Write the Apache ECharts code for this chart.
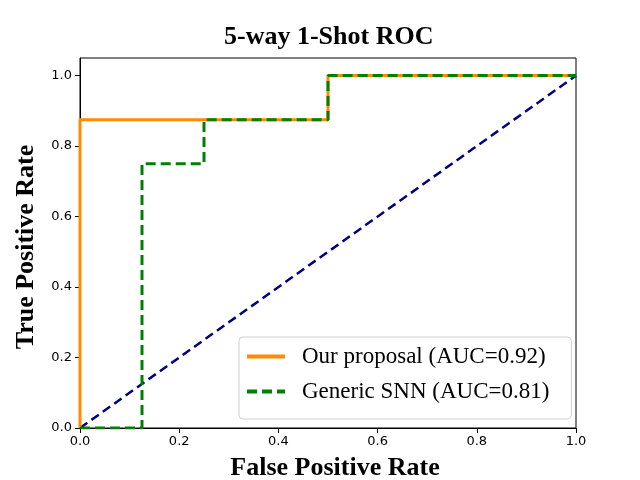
<!DOCTYPE html>
<html>
<head>
<meta charset="utf-8">
<script src="https://cdn.jsdelivr.net/npm/echarts@6/dist/echarts.min.js"></script>
<style>
html, body { margin: 0; padding: 0; background: #fff; }
#main { width: 640px; height: 480px; }
</style>
</head>
<body>
<div id="main"></div>
<script>
// ROC points
var oursFpr = [0, 0, 0.5, 0.5, 1];
var oursTpr = [0, 0.875, 0.875, 1, 1];
var snnFpr = [0, 0.125, 0.125, 0.25, 0.25, 0.5, 0.5, 1];
var snnTpr = [0, 0, 0.75, 0.75, 0.875, 0.875, 1, 1];
var chanceFpr = [0, 1];
var chanceTpr = [0, 1];

function pairs(xs, ys) {
	var out = [];
	for (var i = 0; i < xs.length; i++) {
		out.push([xs[i], ys[i]]);
	}
	return out;
}

var chart = echarts.init(document.getElementById('main'));
var serif = '"Liberation Serif", "DejaVu Serif", serif';
var sans = '"DejaVu Sans", sans-serif';

var option = {
	animation : false,
	title : {
		text : '5-way 1-Shot ROC',
		left : 219,
		top : 19,
		textStyle : { fontFamily : serif, fontWeight : 'bold', fontSize : 26, color : '#000' }
	},
	grid : {
		left : 80, right : 64, top : 58, bottom : 52,
		containLabel : false, outerBoundsMode : 'none',
		show : true, borderColor : '#000', borderWidth : 1
	},
	legend : {
		orient : 'vertical',
		left : 239, top : 337,
		padding : [8, 22, 16, 6],
		itemWidth : 38, itemHeight : 20, itemGap : 12,
		backgroundColor : '#fff',
		borderColor : '#d0d0d0', borderWidth : 1, borderRadius : 4,
		itemStyle : { opacity : 0 },
		lineStyle : { width : 4 },
		data : ['Our proposal (AUC=0.92)', 'Generic SNN (AUC=0.81)'],
		textStyle : { fontFamily : serif, fontSize : 23, color : '#000', padding : [0, 0, 0, 12] }
	},
	xAxis : {
		type : 'value', min : 0, max : 1, interval : 0.2,
		name : 'False Positive Rate', nameLocation : 'middle', nameGap : 27,
		nameTextStyle : { fontFamily : serif, fontWeight : 'bold', fontSize : 26, color : '#000', padding : [0, 0, 0, 14] },
		axisLine : { show : true, lineStyle : { color : '#000' } },
		axisTick : { show : true, length : 5, lineStyle : { color : '#000' } },
		axisLabel : { fontFamily : sans, fontSize : 13, color : '#000', margin : 7,
			formatter : function(v) { return v.toFixed(1); } },
		splitLine : { show : false }
	},
	yAxis : {
		type : 'value', min : 0, max : 1.05, interval : 0.2,
		name : 'True Positive Rate', nameLocation : 'middle', nameGap : 41,
		nameTextStyle : { fontFamily : serif, fontWeight : 'bold', fontSize : 26, color : '#000', padding : [0, 8, 0, 0] },
		axisLine : { show : true, lineStyle : { color : '#000' } },
		axisTick : { show : true, length : 5, lineStyle : { color : '#000' } },
		axisLabel : { fontFamily : sans, fontSize : 13, color : '#000', margin : 8, showMaxLabel : false,
			formatter : function(v) { return v.toFixed(1); } },
		splitLine : { show : false }
	},
	series : [
		{
			name : 'Our proposal (AUC=0.92)',
			type : 'line',
			data : pairs(oursFpr, oursTpr),
			showSymbol : false, symbol : 'none',
			lineStyle : { color : '#ff8c00', width : 3 },
			itemStyle : { color : '#ff8c00' },
			z : 3
		},
		{
			name : 'Generic SNN (AUC=0.81)',
			type : 'line',
			data : pairs(snnFpr, snnTpr),
			showSymbol : false, symbol : 'none',
			lineStyle : { color : '#008000', width : 3, type : [10, 5] },
			itemStyle : { color : '#008000' },
			z : 4
		},
		{
			name : 'chance',
			type : 'line',
			data : pairs(chanceFpr, chanceTpr),
			showSymbol : false, symbol : 'none',
			lineStyle : { color : '#000080', width : 2.5, type : [9, 5] },
			itemStyle : { color : '#000080' },
			z : 2
		}
	]
};
chart.setOption(option);
</script>
</body>
</html>
